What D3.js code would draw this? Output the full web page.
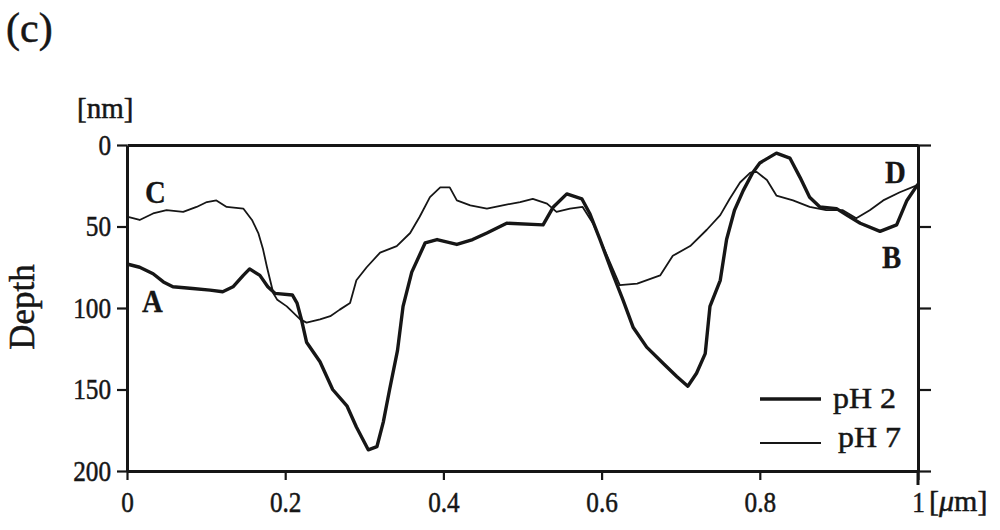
<!DOCTYPE html>
<html><head><meta charset="utf-8">
<script src="https://cdn.jsdelivr.net/npm/d3@7"></script>
<style>html,body{margin:0;padding:0;background:#fff;} svg{display:block;}</style>
</head><body>
<svg id="chart" width="1000" height="530"></svg>
<script>
// ---- data ----
const ph2X = [0,0.016,0.033,0.046,0.058,0.083,0.105,0.121,0.134,0.147,0.155,0.168,0.178,0.187,0.209,0.215,0.221,0.227,0.244,0.260,0.278,0.290,0.305,0.316,0.324,0.332,0.342,0.349,0.360,0.377,0.392,0.417,0.437,0.455,0.480,0.526,0.539,0.556,0.575,0.585,0.598,0.614,0.627,0.640,0.657,0.678,0.695,0.709,0.720,0.731,0.737,0.750,0.758,0.768,0.779,0.791,0.800,0.821,0.838,0.851,0.863,0.876,0.897,0.910,0.927,0.952,0.973,0.986,1.0];
const ph2Depth = [73,75,79,84,87,88,89,90,87,80,76,80,87,91,92,97,108,121,133,150,160,173,187,185,170,150,126,99,78,60,58,61,58,54,48,49,38,30,33,42,58,79,95,112,124,134,142,148,140,128,99,83,58,40,28,17,11,5,8,20,32,38,39,43,48,53,49,34,24];
const ph7X = [0,0.016,0.033,0.050,0.071,0.088,0.101,0.113,0.126,0.147,0.158,0.166,0.172,0.177,0.181,0.185,0.190,0.202,0.219,0.227,0.244,0.257,0.269,0.282,0.290,0.303,0.320,0.341,0.358,0.370,0.383,0.396,0.408,0.417,0.434,0.455,0.475,0.497,0.513,0.531,0.543,0.560,0.576,0.589,0.607,0.623,0.645,0.674,0.690,0.712,0.733,0.750,0.762,0.775,0.788,0.796,0.809,0.821,0.842,0.863,0.884,0.905,0.922,0.939,0.956,0.977,1.0];
const ph7Depth = [44,46,42,40,41,38,35,34,38,39,46,54,64,75,83,91,95,99,107,109,107,105,101,97,83,75,66,62,54,44,32,26,26,34,37,39,37,35,33,36,41,39,38,48,68,86,85,80,68,62,52,43,33,23,17,16.5,21.5,31,34,38,40,40,45,40,34,29,24.5];
const yTicks = [0,50,100,150,200];
const xTicks = [0,0.2,0.4,0.6,0.8,1];
const xTickLabels = ["0","0.2","0.4","0.6","0.8","1"];
const seriesNames = ["pH 2","pH 7"];
const pointLabels = [{t:"C",x:0,d:44},{t:"A",x:0,d:73},{t:"D",x:1,d:24},{t:"B",x:1,d:53}];

// ---- layout ----
const svg = d3.select("#chart");
const x = d3.scaleLinear().domain([0,1]).range([127,918]);
const y = d3.scaleLinear().domain([0,200]).range([145,471]);
const ink = "#161616";
const serif = "'Liberation Serif','Times New Roman',Times,serif";

function styleAxis(g, sx, size){
  g.selectAll("path.domain").attr("stroke", ink).attr("stroke-width", 3);
  g.selectAll(".tick line").attr("stroke", ink).attr("stroke-width", 2.2);
  g.selectAll("text").attr("fill", ink).attr("font-family", serif).attr("font-size", size)
    .attr("stroke", ink).attr("stroke-width", 0.5)
    .each(function(){
      const t = d3.select(this);
      const xv = +t.attr("x") || 0;
      t.attr("x", xv/sx).attr("transform", `scale(${sx},1)`);
    });
}

// top line
svg.append("g").attr("transform","translate(0,145)")
  .call(d3.axisTop(x).tickValues([]).tickSizeOuter(0))
  .call(g=>styleAxis(g,1,29));
// left axis
svg.append("g").attr("transform","translate(127,0)")
  .call(d3.axisLeft(y).tickValues(yTicks).tickSize(10).tickSizeOuter(0).tickPadding(6))
  .call(g=>styleAxis(g,0.87,29));
// right axis
svg.append("g").attr("transform","translate(918,0)")
  .call(d3.axisRight(y).tickValues(yTicks).tickSize(13).tickSizeOuter(0).tickFormat(""))
  .call(g=>styleAxis(g,1,29));
// bottom axis
svg.append("g").attr("transform","translate(0,471)")
  .call(d3.axisBottom(x).tickValues(xTicks).tickSize(9).tickSizeOuter(0).tickPadding(11)
        .tickFormat((d,i)=>xTickLabels[i]))
  .call(g=>styleAxis(g,0.87,29));
// extend right axis line below
svg.append("line").attr("x1",x(1)).attr("x2",x(1)).attr("y1",y(200)).attr("y2",485)
  .attr("stroke",ink).attr("stroke-width",3);

// ---- lines ----
const line = d3.line().x(d=>x(d[0])).y(d=>y(d[1]));
const ph2 = ph2X.map((v,i)=>[v,ph2Depth[i]]);
const ph7 = ph7X.map((v,i)=>[v,ph7Depth[i]]);
svg.append("path").datum(ph7).attr("d",line).attr("fill","none")
  .attr("stroke",ink).attr("stroke-width",1.8).attr("stroke-linejoin","round");
svg.append("path").datum(ph2).attr("d",line).attr("fill","none")
  .attr("stroke",ink).attr("stroke-width",3.4).attr("stroke-linejoin","round");

// ---- texts ----
function stext(px, py, str, size, sx, opts={}){
  const t = svg.append("text").attr("transform",`translate(${px},${py}) scale(${sx},1)`)
    .attr("font-family",serif).attr("font-size",size).attr("fill",ink)
    .attr("font-weight",opts.bold?"bold":"normal")
    .attr("stroke",ink).attr("stroke-width",opts.bold?0.3:0.5)
    .attr("text-anchor",opts.anchor||"start");
  t.text(str);
  return t;
}
stext(6,42,"(c)",42,1);
stext(77,118,"[nm]",29,1);
const um = svg.append("text").attr("transform","translate(929,511)")
  .attr("font-family",serif).attr("font-size",30).attr("fill",ink)
  .attr("stroke",ink).attr("stroke-width",0.5);
um.append("tspan").text("[");
um.append("tspan").attr("font-style","italic").text("μ");
um.append("tspan").text("m]");
svg.append("text").attr("transform","translate(34,307) rotate(-90)")
  .attr("text-anchor","middle").attr("font-family",serif).attr("font-size",35)
  .attr("stroke",ink).attr("stroke-width",0.5)
  .attr("fill",ink).text("Depth");

// point labels
const lblPos = {C:[145,203],A:[142,312],D:[885,183],B:[882,268]};
pointLabels.forEach(p=>{
  const pos = lblPos[p.t];
  stext(pos[0],pos[1],p.t,32,0.9,{bold:true});
});

// legend
const legY = [399,443], legW = [3.6,1.8], legTx = [833,838], legTb = [408,447];
seriesNames.forEach((n,i)=>{
  svg.append("line").attr("x1",760).attr("x2",821).attr("y1",legY[i]).attr("y2",legY[i])
    .attr("stroke",ink).attr("stroke-width",legW[i]);
  stext(legTx[i],legTb[i],n,29,1.1);
});
</script>
</body></html>
